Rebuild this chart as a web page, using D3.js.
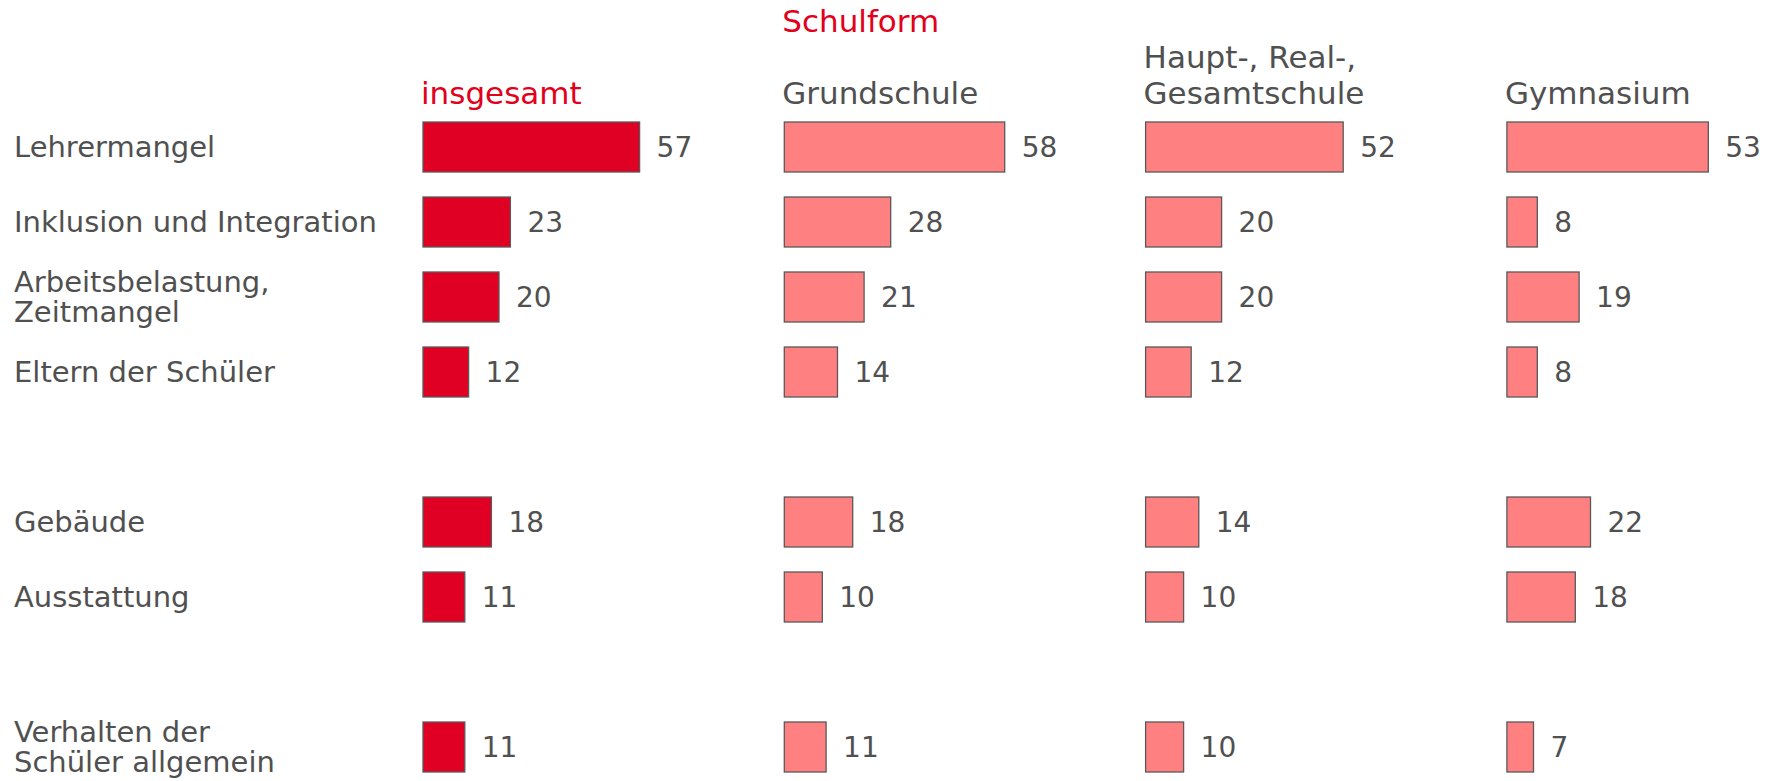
<!DOCTYPE html>
<html>
<head>
<meta charset="utf-8">
<script src="https://cdn.jsdelivr.net/npm/d3@7"></script>
<style>
  body { margin: 0; background: #fff; }
  svg text { font-family: "DejaVu Sans", Verdana, sans-serif; fill: #505050; }
</style>
</head>
<body>
<div id="chart"></div>
<script>
// Row labels (null = empty spacer row)
const categories = [
    ['Lehrermangel'],
    ['Inklusion und Integration'],
    ['Arbeitsbelastung,', 'Zeitmangel'],
    ['Eltern der Schüler'],
    null,
    ['Gebäude'],
    ['Ausstattung'],
    null,
    ['Verhalten der', 'Schüler allgemein']
];

// Column headers
const groups = ['insgesamt', 'Grundschule', 'Haupt-, Real-, Gesamtschule', 'Gymnasium'];
const groupLines = [['insgesamt'], ['Grundschule'], ['Haupt-, Real-,', 'Gesamtschule'], ['Gymnasium']];

// Values in percent
const insgesamt   = [57, 23, 20, 12, null, 18, 11, null, 11];
const grundschule = [58, 28, 21, 14, null, 18, 10, null, 11];
const hauptReal   = [52, 20, 20, 12, null, 14, 10, null, 10];
const gymnasium   = [53, 8, 19, 8, null, 22, 18, null, 7];

const series = [insgesamt, grundschule, hauptReal, gymnasium];

const width = 1776;
const height = 781;

const svg = d3.select('#chart')
    .append('svg')
    .attr('width', width)
    .attr('height', height);

// Scales
const yScale = d3.scaleBand()
    .domain(d3.range(categories.length))
    .range([97, 797])
    .padding(1 / 3);

const colScale = d3.scaleBand()
    .domain(groups)
    .range([423, 423 + 4 * 361.3])
    .padding(0)
    .align(0);

const xScale = d3.scaleLinear()
    .domain([0, 60])
    .range([0, 228]);

// Row labels
const labels = svg.selectAll('.row-label')
    .data(categories.map((c, i) => ({ lines: c, i })).filter(d => d.lines))
    .enter()
    .append('text')
    .attr('class', 'row-label')
    .attr('x', 14)
    .attr('y', d => yScale(d.i) + yScale.bandwidth() / 2)
    .style('font-size', '29px');

labels.selectAll('tspan')
    .data(d => d.lines.map((l, k) => ({ l, k, n: d.lines.length })))
    .enter()
    .append('tspan')
    .attr('x', 14)
    .attr('dy', d => d.n === 1 ? (d.k === 0 ? 10 : 0) : (d.k === 0 ? -5 : 30))
    .text(d => d.l);

// Header "Schulform"
svg.append('text')
    .attr('x', colScale('Grundschule') - 2)
    .attr('y', 32)
    .style('font-size', '31px')
    .style('fill', '#e2001a')
    .text('Schulform');

// Column headers
const headers = svg.selectAll('.col-header')
    .data(groups)
    .enter()
    .append('text')
    .attr('class', 'col-header')
    .attr('y', 104)
    .style('font-size', '31px')
    .style('fill', (d, i) => i === 0 ? '#e2001a' : '#505050');

headers.selectAll('tspan')
    .data((d, i) => groupLines[i].map((l, k) => ({ l, k, n: groupLines[i].length, g: d })))
    .enter()
    .append('tspan')
    .attr('x', d => colScale(d.g) - 2)
    .attr('dy', d => d.n === 1 ? 0 : (d.k === 0 ? -36 : 36))
    .text(d => d.l);

// Bars and value labels
series.forEach((values, gi) => {
    const g = svg.append('g')
        .attr('transform', `translate(${colScale(groups[gi])},0)`);
    const rows = values.map((v, i) => ({ v, i })).filter(d => d.v !== null);

    g.selectAll('.bar')
        .data(rows)
        .enter()
        .append('rect')
        .attr('class', 'bar')
        .attr('x', 0)
        .attr('y', d => yScale(d.i))
        .attr('width', d => xScale(d.v))
        .attr('height', yScale.bandwidth())
        .attr('fill', gi === 0 ? '#e00024' : '#ff8080')
        .attr('stroke', '#595959')
        .attr('stroke-width', 1.3);

    g.selectAll('.bar-label')
        .data(rows)
        .enter()
        .append('text')
        .attr('class', 'bar-label')
        .attr('x', d => xScale(d.v) + 17)
        .attr('y', d => yScale(d.i) + yScale.bandwidth() / 2 + 10)
        .style('font-size', '28px')
        .text(d => d.v);
});
</script>
</body>
</html>
